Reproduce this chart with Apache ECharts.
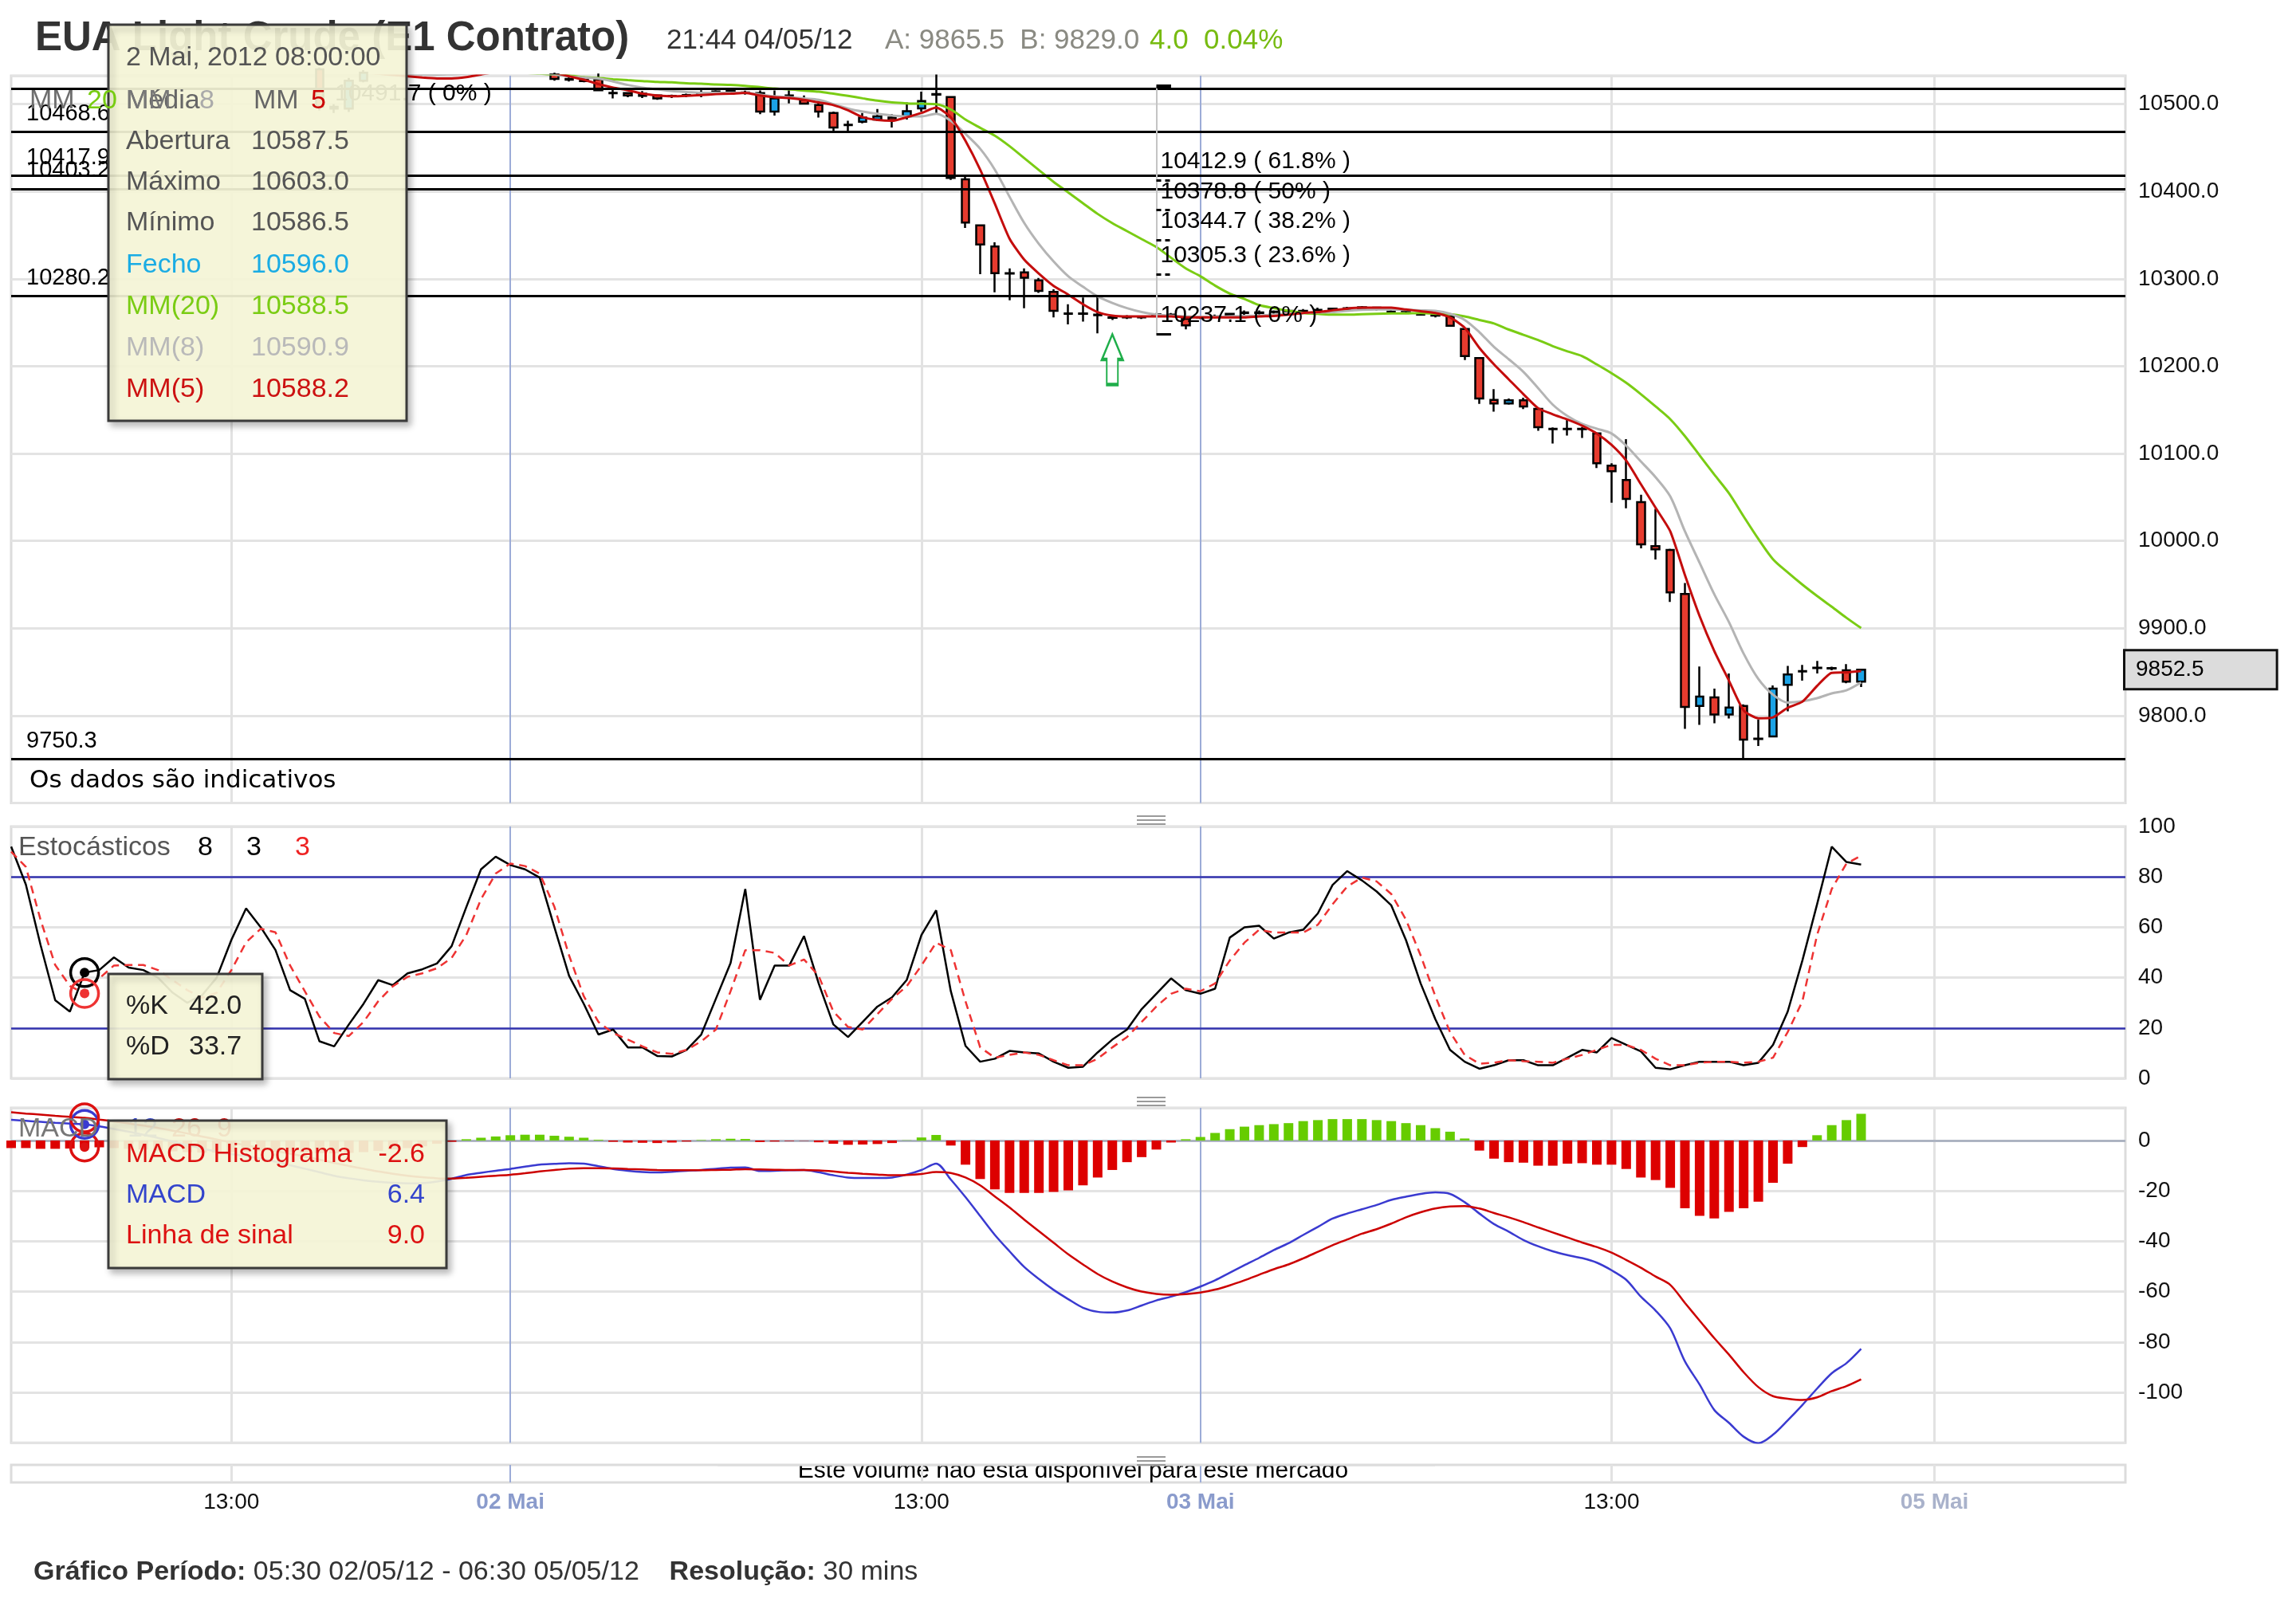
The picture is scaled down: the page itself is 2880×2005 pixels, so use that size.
<!DOCTYPE html>
<html><head><meta charset="utf-8">
<script src="https://cdn.jsdelivr.net/npm/echarts@6/dist/echarts.min.js"></script>
<style>html,body{margin:0;padding:0;background:#fff}#c{width:2880px;height:2005px}</style>
</head><body><div id="c"></div><script>
const FONT = '"Liberation Sans", Arial, Helvetica, sans-serif';

// ---- x axis slots (bar index) and tick labels ----
const slotCount = 145;
const slots = Array.from({length: slotCount}, (_, i) => i);
const xTickIndex = [15, 34, 62, 81, 109, 131];
const xTickText  = ['13:00', '02 Mai', '13:00', '03 Mai', '13:00', '05 Mai'];
const xTickKind  = ['t', 'd', 't', 'd', 't', 'w'];

// ---- price candles (30 min) ----
const candleOpen = [10616,10612,10604,10592,10584,10587.5,10596,10592,10598,10590,
 10588,10585,10580,10576,10572,10575,10580,10584,10572,10563,
 10552,10540,10497,10495,10527,10536,10537,10535,10536,10537,
 10538,10540,10544,10548,10550,10547,10544,10534,10529,10528.6,
 10528.6,10513,10512.8,10512,10510,10509.5,10510.5,10512,10514,10515,
 10513.5,10512.8,10491.5,10509,10505,10499,10490,10476.5,10480,10482.4,
 10484.8,10486,10495.2,10511,10508.2,10414,10361.4,10337,10306.6,10307.5,
 10298.4,10285,10260.4,10260.4,10259,10256,10256,10256.5,10259,10259,
 10254.3,10256,10257,10258,10261,10261,10262,10263,10263,10264,
 10266,10265.5,10266,10267,10262,10263,10259,10258.5,10257.3,10242.7,
 10209.3,10161.5,10157.4,10161,10151.3,10128.5,10128,10128,10123.1,10086.3,
 10069.7,10044.5,9994,9989.6,9939.2,9811.1,9820.8,9801.3,9811.1,9773.2,
 9776.1,9835.3,9850.5,9854.5,9854.4,9851.9,9838.9];
const candleClose = [10612,10604,10592,10584,10587.5,10596,10592,10598,10590,10588,
 10585,10580,10576,10572,10575,10580,10584,10572,10563,10552,
 10540,10497,10495,10527,10536,10537,10535,10536,10537,10538,
 10540,10544,10548,10550,10547,10544,10534,10529,10528,10526.5,
 10516,10512.5,10510,10509.5,10506.5,10509,10510,10512.5,10514.5,10515.5,
 10513,10491.5,10506.7,10510,10500.6,10491.5,10473.3,10476,10484.8,10486,
 10481.8,10492,10503.7,10511.5,10415.5,10364.4,10339.4,10306.6,10306,10301.4,
 10286.2,10263.4,10260,10260,10258.5,10255.5,10256.5,10256,10259.5,10258.5,
 10246.7,10256.5,10256.5,10260,10261.5,10261.5,10262.5,10263.5,10263.5,10264.5,
 10264,10266.5,10267.5,10265.5,10262.5,10263.5,10259.5,10258,10246.3,10211.7,
 10163,10157.4,10161,10154,10130.3,10128,10128.5,10128.5,10088.9,10079.8,
 10048.1,9996.2,9990.4,9941,9810,9821.9,9801.3,9809.3,9772.5,9773.7,
 9830.9,9847.1,9851,9855,9854,9838.9,9852.5];
const candleLow = [10605,10600,10590,10580,10582,10586.5,10589,10590,10588,10585,
 10582,10578,10572,10569,10570,10573,10578,10570,10560,10550,
 10538,10493,10490,10491,10525,10534,10534,10534,10535,10535,
 10536,10538,10542,10546,10545,10542,10533,10527,10526,10525,
 10515,10506.7,10508,10507,10505,10507,10508,10508,10512,10513,
 10511,10488.5,10487,10501,10500,10484.8,10467.8,10467.8,10478,10480.9,
 10473.3,10482.4,10491.5,10488.5,10413.3,10358.3,10305.4,10284.7,10275.6,10266.5,
 10284,10255.8,10248,10251,10237.6,10253,10254,10254,10257,10257,
 10242.2,10254,10255,10257,10257,10259,10260,10261,10261,10262,
 10263,10264,10265,10264,10260,10261,10258,10256,10245.5,10207.1,
 10157,10148,10156,10151,10126,10111.6,10120.6,10118,10083.5,10043.8,
 10037.3,9991.5,9978.8,9930.2,9784.8,9789.4,9791.2,9796.7,9751.6,9765.3,
 9775,9805,9840,9848.2,9852,9837,9832.7];
const candleHigh = [10620,10614,10606,10594,10590,10603,10598,10600,10599,10593,
 10590,10587,10582,10578,10578,10582,10586,10585,10574,10565,
 10555,10542,10500,10530,10539,10540,10538,10538,10539,10540,
 10542,10546,10550,10553,10552,10549,10545,10536,10531,10530,
 10535,10517.4,10514,10515,10511,10511,10512,10516,10516,10517,
 10515.5,10515.8,10515.8,10516,10510,10503.7,10491.5,10481,10490,10494.5,
 10488.5,10502,10514.3,10534,10509,10419,10362,10341.9,10312,10312,
 10301,10288,10271,10278.6,10281.7,10258,10258.5,10258,10261,10261,
 10256,10258,10259,10261,10264,10264,10264,10265,10265.5,10267,
 10267,10268,10269,10268,10265,10265,10261,10262,10258.4,10244,
 10210,10173.7,10163,10164,10152,10130,10139.4,10130.5,10124,10088.9,
 10116.6,10052.8,10036.6,9991,9951.8,9856.2,9830.9,9848.2,9813,9795.6,
 9834.5,9856.9,9858,9862.6,9856,9859,9853];

// ---- moving averages ----
const ma5 = [10598,10596,10593,10590,10589,10588.2,10589,10590,10591,10592,
 10590,10587,10583,10579,10576,10575,10576,10575,10572,10566,
 10560,10553,10546,10541,10537,10535,10533.5,10532,10530.5,10529.5,
 10529.5,10531,10534,10537,10539,10540,10539,10536,10532,10528,
 10523,10519,10516,10512,10510,10509,10509.5,10510.5,10511.5,10512,
 10513,10510,10508,10507,10505,10502,10499,10493,10485,10482,
 10481,10485,10490,10496,10485,10458,10425,10386,10346,10322,
 10306,10292,10282,10271,10262,10258,10257,10257,10257,10257,
 10256,10256,10256,10256,10256,10257,10257.5,10259,10261,10262,
 10264,10266,10267,10267,10267,10265,10263,10261,10256,10244,
 10221,10202,10185,10168,10152,10145,10139,10132,10123,10110,
 10092,10065,10038,10011,9961,9914,9874,9840,9806,9797,
 9798,9809,9816,9834,9849,9849.5,9851];
const ma8 = [10594,10593.5,10593,10592,10591.5,10590.9,10590,10589.5,10589,10588.5,
 10588,10586,10584,10582,10580,10578,10576,10574,10571,10567,
 10562,10557,10552,10547,10543,10540,10537,10535,10534,10534,
 10534.5,10535,10535.5,10536,10536.5,10537,10536,10534,10532,10530.5,
 10529.5,10526,10522,10519,10517,10515,10514,10513,10513,10513,
 10513,10511,10509,10508,10506.5,10505,10500,10495,10491.5,10489,
 10487,10486,10486,10489,10481,10466,10449,10425,10394,10364,
 10340,10320,10303,10291,10280,10272.5,10266.5,10262,10259,10258,
 10257,10256.5,10256.5,10257,10257.5,10258,10259,10260,10261,10261.5,
 10262,10263.5,10264.5,10265,10265,10264.5,10264,10263.4,10260,10253,
 10239,10222,10208,10193.5,10175,10156,10143,10134,10128.5,10123,
 10109,10091,10073,10051,10011,9975,9939,9907,9871,9842,
 9824,9815,9816.5,9820,9825.5,9829,9838];
const ma20 = [10590,10589.5,10589,10589,10588.7,10588.5,10588,10587.5,10587,10586.5,
 10586,10585,10584,10583,10582,10581,10580,10578.5,10577,10575,
 10573,10570.5,10568,10565,10562,10559,10556,10553,10550,10547,
 10545,10543,10541,10539,10537.5,10536,10535,10534,10533,10531,
 10530,10528.6,10527.5,10526.5,10525.5,10525,10524,10523.4,10522.5,10522,
 10521,10519.5,10518,10517,10515.5,10514.3,10512,10509.5,10506.7,10504,
 10502,10501,10500.6,10500,10494,10482.4,10473,10464,10452,10438.3,
 10424.6,10411,10399,10386.6,10374.4,10363.8,10354.7,10345.5,10336.4,10324.2,
 10312,10303,10292.3,10283.2,10277,10270,10266.5,10263.5,10261,10260,
 10259,10259,10259.5,10260,10260.4,10260.5,10261,10260,10259.5,10257,
 10253,10249,10242,10236,10230,10223,10217,10211.5,10202,10192,
 10181,10168,10154,10139.4,10120,10098,10076,10054.6,10028,10002.3,
 9979,9964,9950,9937,9924.7,9912,9900.2];

// ---- stochastics (8,3,3) ----
const stochK = [92,77,53,31,26.5,42,43,48,44,43,
 40,34,30,33,40,55,67.5,60,51,35,
 31.6,14.7,12.7,21.4,29.6,39,37,41.7,43.3,45.6,
 52.5,68,83,88,84.7,83,79.7,60,40.7,29.6,
 17.4,19.4,12.3,12.3,8.9,8.7,11.3,17.4,31.6,45.8,
 75.2,31.2,44.8,44.8,56.5,37.7,21.4,16.4,22.4,28.5,
 32.2,39.1,56.9,66.7,34.6,12.9,6.6,7.8,10.9,10.3,
 9.9,6.6,4.2,4.6,10.3,15.4,19.4,27.5,33.6,39.7,
 35,33.6,35.6,55.9,60,60.6,55.5,57.9,59,65.5,
 76.8,82.3,78.6,74.2,68.7,54.9,37.7,23.5,11.3,6.6,
 3.8,5.2,7.2,7.2,5.2,5.2,8.2,11.3,10.3,16,
 13.3,10.7,4.2,3.6,5.2,6.6,6.6,6.6,5.2,6.2,
 13.3,26.5,46.8,69.1,92,85.9,84.9];
const stochD = [90,84,63,45,36.7,33.7,39.7,44.8,45,45,
 43,39,35,32,34,43,54,59.4,58,44.8,
 34.6,24.5,18,16.8,22.4,30.6,36.6,40.3,41.7,43.7,
 47.8,56.9,71.1,81.3,85.3,84.3,81.3,68.1,48.8,32.6,
 22.4,18,15.4,12.7,10.3,9.7,11.3,14.7,19.4,34.6,
 50.9,50.9,49.8,44.8,47.2,40.7,26.5,20.4,19.4,25.5,
 31.6,36.6,44.8,53.9,50.9,30.6,12.3,8.2,9.3,10.3,
 9.3,7.2,5.2,5.2,7.8,12.3,16.4,22.4,28.5,33.6,
 35.6,34.6,37.7,46.8,53.9,59,57.9,57.9,57.9,61,
 69.1,76.2,79.7,78.2,73.2,63,48.8,32.6,18.4,9.3,
 5.8,6.2,7.2,6.8,6.6,6.2,7.8,9.3,11.3,13.3,
 13.3,11.3,7.8,5.2,5.2,6.2,6.6,6.6,6.2,6.6,
 8.2,18.4,30.6,56.9,75.2,85.3,88.4];

// ---- MACD (12,26,9) ----
const macdLine = [8.2,7.8,7.4,7.0,6.7,6.4,5.6,4.6,3.5,2.3,
 1.0,-0.4,-1.8,-3.2,-4.4,-5.4,-6.2,-7.2,-8.4,-9.8,
 -11.2,-12.6,-14.0,-15.0,-15.8,-16.4,-16.8,-17.0,-16.9,-16.3,
 -15.2,-13.7,-12.8,-12.0,-11.3,-10.4,-9.6,-9.3,-9.0,-9.2,
 -10.2,-11.3,-12.0,-12.5,-12.7,-12.4,-12.0,-11.7,-11.2,-10.8,
 -10.7,-12.1,-12.0,-11.8,-11.7,-12.6,-13.8,-14.7,-14.9,-14.9,
 -14.7,-13.5,-11.7,-9.2,-15.5,-22.5,-30,-37.5,-44,-50.2,
 -55.0,-59.3,-63.0,-66.4,-68.0,-68.3,-67.5,-65.5,-63.5,-62,
 -60.2,-58,-55.5,-52.5,-49.5,-46.6,-43.5,-40.8,-37.5,-34.3,
 -31.0,-29,-27.3,-25.6,-23.6,-22.3,-21.2,-20.6,-21.2,-24.5,
 -29.0,-33.2,-36.2,-39.5,-42.0,-44.0,-45.5,-46.7,-48.5,-51.5,
 -55.3,-62,-67.5,-74.6,-87.7,-96.9,-107,-112.1,-117.6,-120.2,
 -116.8,-111.1,-105,-98.5,-92.4,-88.4,-82.7];
const signalLine = [11.2,10.7,10.3,9.8,9.4,9.0,8.3,7.6,6.8,5.9,
 5.0,3.9,2.8,1.6,0.4,-0.8,-1.9,-3.0,-4.1,-5.2,
 -6.4,-7.6,-8.9,-10.1,-11.2,-12.3,-13.2,-14.0,-14.6,-15.0,
 -15.1,-14.8,-14.4,-14.0,-13.6,-13.0,-12.3,-11.7,-11.2,-11.0,
 -11.0,-11.1,-11.3,-11.5,-11.7,-11.8,-11.8,-11.8,-11.7,-11.6,
 -11.4,-11.5,-11.6,-11.7,-11.7,-11.9,-12.3,-12.8,-13.2,-13.5,
 -13.8,-13.7,-13.3,-12.5,-12.9,-14.7,-17.8,-22.2,-26.6,-31.4,
 -36.0,-40.6,-45.2,-49.2,-53.0,-56.0,-58.3,-60,-60.9,-61.2,
 -61.0,-60.4,-59.2,-57.5,-55.5,-53.3,-51.1,-49.2,-46.8,-44.2,
 -41.6,-39.3,-37.0,-35.2,-33.0,-30.5,-28.5,-27.0,-26.2,-26.0,
 -27.0,-28.8,-30.5,-32.4,-34.5,-36.5,-38.5,-40.5,-42.3,-44.5,
 -47.4,-50.5,-54,-57.3,-64.5,-71.5,-78.5,-85,-92,-97.9,
 -101.5,-102.5,-103,-102,-99.5,-97.5,-94.8];
const macdHist = [-3,-3,-3.3,-3.3,-3.2,-2.6,-2.7,-3.0,-3.3,-3.6,
 -4.0,-4.3,-4.6,-4.8,-4.8,-4.6,-4.3,-4.2,-4.3,-4.6,
 -4.8,-5.0,-5.1,-4.9,-4.6,-4.1,-3.6,-3.0,-2.3,-1.3,
 -0.5,0.5,1.1,1.6,2.1,2.3,2.3,1.9,1.5,1.1,
 0.3,-0.5,-0.8,-0.9,-1.0,-0.8,-0.4,0.2,0.5,0.7,
 0.6,-0.6,-0.4,-0.2,-0.1,-0.7,-1.3,-1.7,-1.6,-1.4,
 -1.0,0.1,1.2,2.2,-2.0,-9.6,-15.3,-19.4,-20.8,-20.8,
 -20.8,-20.4,-19.8,-17.8,-14.7,-11.7,-8.6,-6.6,-3.6,-0.8,
 0.5,1.4,3.0,4.5,5.5,6.1,6.5,6.9,7.7,8.1,
 8.5,8.5,8.5,8.1,7.7,6.9,6.1,4.9,3.5,0.8,
 -4.0,-7.2,-8.6,-8.8,-10.0,-10.0,-9.2,-9.0,-9.6,-9.6,
 -11.3,-14.7,-15.7,-18.8,-26.9,-29.9,-30.9,-28.3,-26.9,-24.3,
 -16.8,-9.2,-2.6,2.1,6.1,8.1,10.6];

// ---- drawn levels ----
const levelValues = [10518, 10468.6, 10417.9, 10403.2, 10280.2, 9750.3];
const levelLabels = ['', '10468.6', '10417.9', '10403.2', '10280.2', '9750.3'];
const fibValues = [10520.5, 10412.9, 10378.8, 10344.7, 10305.3, 10237.1];
const fibLabels = ['', '10412.9 ( 61.8% )', '10378.8 ( 50% )', '10344.7 ( 38.2% )', '10305.3 ( 23.6% )', '10237.1 ( 0% )'];
const fibStart = 78, fibEnd = 79;
const lastPrice = 9852.5;
const hoverIndex = 5;
const hover = {k: 42.0, d: 33.7, hist: -2.6, macd: 6.4, signal: 9.0};
const arrowAt = [75, 10207.8];

[candleOpen, candleClose, candleLow, candleHigh, ma5, ma8, ma20, stochK, stochD, macdLine, signalLine, macdHist]
  .forEach((a, k) => { if (a.length !== 127) console.error('array ' + k + ' length ' + a.length); });

const candleData = candleOpen.map((o, i) => [o, candleClose[i], candleLow[i], candleHigh[i]]);

function vLines() {
  return xTickIndex.map((ix, k) => ({
    xAxis: ix,
    lineStyle: {color: xTickKind[k] === 'd' ? '#9cacd7' : '#e2e2e2', width: xTickKind[k] === 'd' ? 2 : 3, type: 'solid'}
  }));
}
function gridMarkLine() {
  return {silent: true, z: 1, animation: false, symbol: ['none', 'none'], label: {show: false}, data: vLines()};
}
function ring(x, y, color, dot) {
  const d = [{coord: [x, y], symbol: 'circle', symbolSize: 35,
    itemStyle: {color: 'rgba(255,255,255,0)', borderColor: color, borderWidth: 3.5}}];
  if (dot) d.push({coord: [x, y], symbol: 'circle', symbolSize: 12, itemStyle: {color: dot}});
  return {silent: true, animation: false, label: {show: false}, data: d};
}
function makeX(gridIndex, showLabels) {
  const ax = {type: 'category', gridIndex, data: slots, boundaryGap: false,
    axisLine: {show: false}, axisTick: {show: false}, splitLine: {show: false}, axisLabel: {show: false}};
  if (showLabels) {
    ax.axisLabel = {
      show: true, margin: 11,
      interval: (idx) => xTickIndex.indexOf(idx) >= 0,
      formatter: (val, idx) => {
        const k = xTickIndex.indexOf(idx);
        if (k < 0) return '';
        return '{' + xTickKind[k] + '|' + xTickText[k] + '}';
      },
      rich: {
        t: {fontSize: 28, color: '#111', fontFamily: FONT},
        d: {fontSize: 28, color: '#8a9bcc', fontWeight: 'bold', fontFamily: FONT},
        w: {fontSize: 28, color: '#a9b2cb', fontWeight: 'bold', fontFamily: FONT}
      }
    };
  }
  return ax;
}
const yLabel = {fontSize: 28, color: '#111', fontFamily: FONT, margin: 16};
const gridBase = {left: 14, right: 214, show: true, borderColor: '#dcdcdc', borderWidth: 3, backgroundColor: 'rgba(0,0,0,0)'};

function txt(x, y, text, color, size, extra) {
  const el = {type: 'text', x, y, z: 101, silent: true,
    style: {text, fill: color, font: size + 'px ' + FONT, verticalAlign: 'middle', textVerticalAlign: 'middle', align: 'left', textAlign: 'left'}};
  if (extra) { Object.assign(el.style, extra.style || {}); if (extra.z != null) el.z = extra.z; }
  return el;
}
function rtxt(x, y, text, color, size, z) {
  return txt(x, y, text, color, size, {style: {align: 'right', textAlign: 'right'}, z: z});
}
function box(x, y, w, h) {
  return {type: 'rect', z: 100, silent: true, shape: {x, y, width: w, height: h},
    style: {fill: 'rgba(251,251,219,0.9)', stroke: '#3a3a3a', lineWidth: 3,
      shadowBlur: 8, shadowOffsetX: 4, shadowOffsetY: 5, shadowColor: 'rgba(0,0,0,0.28)'}};
}
function handle(cx, y0) {
  return [0, 5, 10].map(dy => ({type: 'line', z: 20, silent: true,
    shape: {x1: cx - 18, y1: y0 + dy, x2: cx + 18, y2: y0 + dy}, style: {stroke: '#9a9a9a', lineWidth: 2}}));
}

const graphics = [
  // header
  txt(44, 49, 'EUA Light Crude (E1 Contrato)', '#333', 51, {style: {font: 'bold 51px ' + FONT}, z: 10}),
  txt(836, 51, '21:44 04/05/12', '#333', 35, {z: 10}),
  txt(1110, 51, 'A: 9865.5  B: 9829.0', '#8a8a82', 35, {z: 10}),
  txt(1442, 51, '4.0  0.04%', '#77bb11', 35, {z: 10}),
  // faded fib label under tooltip
  txt(420, 118, '10491.7 ( 0% )', '#000', 30, {z: 3}),
  txt(37, 980, 'Os dados são indicativos', '#000', 31, {style: {font: '31px "DejaVu Sans", sans-serif'}, z: 10}),
  // main tooltip
  box(136, 31, 374, 497),
  txt(158, 73, '2 Mai, 2012 08:00:00', '#555', 34),
  txt(158, 178, 'Abertura', '#555', 34), txt(315, 178, '10587.5', '#555', 34),
  txt(158, 229, 'Máximo', '#555', 34), txt(315, 229, '10603.0', '#555', 34),
  txt(158, 280, 'Mínimo', '#555', 34), txt(315, 280, '10586.5', '#555', 34),
  txt(158, 333, 'Fecho', '#1aace4', 34), txt(315, 333, '10596.0', '#1aace4', 34),
  txt(158, 385, 'MM(20)', '#7acc14', 34), txt(315, 385, '10588.5', '#7acc14', 34),
  txt(158, 437, 'MM(8)', '#b9b9b9', 34), txt(315, 437, '10590.9', '#b9b9b9', 34),
  txt(158, 489, 'MM(5)', '#cc1111', 34), txt(315, 489, '10588.2', '#cc1111', 34),
  // main legend (drawn over tooltip)
  txt(37, 127, 'MM', '#6e6e6e', 34, {z: 120}), txt(109, 127, '20', '#77cc11', 34, {z: 120}),
  txt(158, 127, 'Média', '#666', 34, {z: 120}), txt(158, 127, 'MM', '#777', 34, {z: 121}),
  txt(250, 127, '8', '#aaaaaa', 34, {z: 120}),
  txt(318, 127, 'MM', '#666', 34, {z: 120}), txt(390, 127, '5', '#cc0000', 34, {z: 120}),
  // stochastic legend + tooltip
  txt(23, 1064, 'Estocásticos', '#555', 34, {z: 50}),
  txt(248, 1064, '8', '#000', 34, {z: 50}), txt(309, 1064, '3', '#000', 34, {z: 50}), txt(370, 1064, '3', '#ee2222', 34, {z: 50}),
  box(136, 1222, 193, 132),
  txt(158, 1263, '%K', '#222', 34), txt(237, 1263, '42.0', '#222', 34),
  txt(158, 1314, '%D', '#222', 34), txt(237, 1314, '33.7', '#222', 34),
  // MACD legend + tooltip
  txt(23, 1417, 'MACD', '#777', 34, {z: 50}),
  txt(160, 1417, '12', '#3344cc', 34, {z: 50}), txt(215, 1417, '26', '#cc0000', 34, {z: 50}), txt(272, 1417, '9', '#cc0000', 34, {z: 50}),
  box(136, 1406, 424, 185),
  txt(158, 1449, 'MACD Histograma', '#dd1111', 34), rtxt(533, 1449, '-2.6', '#dd1111', 34, 101),
  txt(158, 1500, 'MACD', '#3344cc', 34), rtxt(533, 1500, '6.4', '#3344cc', 34, 101),
  txt(158, 1551, 'Linha de sinal', '#dd1111', 34), rtxt(533, 1551, '9.0', '#dd1111', 34, 101),
  // volume panel note (top clipped by panel edge)
  txt(1346, 1846, 'Este volume não está disponível para este mercado', '#000', 30,
    {style: {align: 'center', textAlign: 'center'}, z: 1}),
  {type: 'rect', z: 2, silent: true, shape: {x: 900, y: 1814, width: 900, height: 23}, style: {fill: '#fff'}},
  {type: 'line', z: 3, silent: true, shape: {x1: 900, y1: 1838, x2: 1800, y2: 1838}, style: {stroke: '#dcdcdc', lineWidth: 3}},
  // footer
  {type: 'text', x: 42, y: 1973, z: 10, silent: true, style: {
    text: '{b|Gráfico Período:}{n| 05:30 02/05/12 - 06:30 05/05/12    }{b|Resolução:}{n| 30 mins}',
    verticalAlign: 'middle', textVerticalAlign: 'middle', fill: '#333', font: '34px ' + FONT,
    rich: {b: {fontSize: 34, fontWeight: 'bold', fontFamily: FONT, fill: '#333', color: '#333'},
           n: {fontSize: 34, fontFamily: FONT, fill: '#333', color: '#333'}}}}
].concat(handle(1444, 1024), handle(1444, 1377), handle(1444, 1828));

const option = {
  animation: false,
  backgroundColor: '#fff',
  textStyle: {fontFamily: FONT},
  grid: [
    Object.assign({top: 95, height: 912.5}, gridBase),
    Object.assign({top: 1037, height: 316}, gridBase),
    Object.assign({top: 1389.9, height: 420.3}, gridBase),
    Object.assign({top: 1838, height: 22}, gridBase)
  ],
  xAxis: [makeX(0, false), makeX(1, false), makeX(2, false), makeX(3, true)],
  yAxis: [
    {type: 'value', gridIndex: 0, position: 'right', min: 9700, max: 10532.6, interval: 100,
     axisLine: {show: false}, axisTick: {show: false},
     axisLabel: Object.assign({showMinLabel: false, showMaxLabel: false, formatter: v => v.toFixed(1)}, yLabel),
     splitLine: {lineStyle: {color: '#e3e3e3', width: 3}}},
    {type: 'value', gridIndex: 1, position: 'right', min: 0, max: 100, interval: 20,
     axisLine: {show: false}, axisTick: {show: false}, axisLabel: Object.assign({}, yLabel),
     splitLine: {lineStyle: {color: '#e3e3e3', width: 3}}},
    {type: 'value', gridIndex: 2, position: 'right', min: -120, max: 13, interval: 20,
     axisLine: {show: false}, axisTick: {show: false},
     axisLabel: Object.assign({showMinLabel: false, showMaxLabel: false}, yLabel),
     splitLine: {lineStyle: {color: '#e3e3e3', width: 3}}},
    {type: 'value', gridIndex: 3, position: 'right', min: 0, max: 1, interval: 1,
     axisLine: {show: false}, axisTick: {show: false},
     axisLabel: Object.assign({showMaxLabel: false}, yLabel), splitLine: {show: false}}
  ],
  series: [
    {type: 'candlestick', name: 'EUA Light Crude', xAxisIndex: 0, yAxisIndex: 0, data: candleData, barWidth: 10, z: 2,
     itemStyle: {color: '#1ba3e6', color0: '#e63b2e', borderColor: '#000', borderColor0: '#000', borderColorDoji: '#000', borderWidth: 2.5},
     markLine: {silent: true, animation: false, symbol: ['none', 'none'], z: 5,
       lineStyle: {color: '#000', width: 3, type: 'solid'}, label: {show: false},
       data: levelValues.map((v, k) => ({yAxis: v, label: {show: !!levelLabels[k], position: 'insideStartTop',
         formatter: levelLabels[k], color: '#000', fontSize: 29, fontFamily: FONT, distance: [19, 8]}}))},
     markPoint: {silent: true, animation: false, label: {show: false},
       data: [{coord: arrowAt, symbol: 'path://M13,0 L26,31 L20,31 L20,62 L6,62 L6,31 L0,31 Z', symbolSize: [26, 63],
         itemStyle: {color: 'rgba(0,0,0,0)', borderColor: '#1fae4a', borderWidth: 3}}]}},
    {type: 'line', name: 'MM(20)', xAxisIndex: 0, yAxisIndex: 0, data: ma20, symbol: 'none', smooth: 0.3, z: 3,
     lineStyle: {color: '#7acc14', width: 3}, markLine: gridMarkLine()},
    {type: 'line', name: 'MM(8)', xAxisIndex: 0, yAxisIndex: 0, data: ma8, symbol: 'none', smooth: 0.3, z: 3,
     lineStyle: {color: '#b4b4b4', width: 3},
     markLine: {silent: true, animation: false, symbol: ['none', 'none'], z: 5, label: {show: false},
       lineStyle: {color: '#000', width: 3, type: [6, 5]},
       data: [[{coord: [fibStart, fibValues[0]], lineStyle: {color: '#c4c4c4', width: 2, type: 'solid'}}, {coord: [fibStart, fibValues[5]]}]]
         .concat(fibValues.map((v, k) => [
           {coord: [fibStart, v],
            lineStyle: (k === 0 || k === 5) ? {color: '#000', width: k === 0 ? 5 : 3, type: 'solid'} : {color: '#000', width: 3, type: [6, 5]},
            label: {show: !!fibLabels[k], position: 'insideStartTop', formatter: fibLabels[k], color: '#000', fontSize: 30, fontFamily: FONT, distance: [5, 8]}},
           {coord: [fibEnd, v]}]))}},
    {type: 'line', name: 'MM(5)', xAxisIndex: 0, yAxisIndex: 0, data: ma5, symbol: 'none', smooth: 0.2, z: 3,
     lineStyle: {color: '#c40d0d', width: 3},
     markLine: {silent: true, animation: false, symbol: ['none', 'none'], z: 6,
       data: [{yAxis: lastPrice, lineStyle: {color: 'rgba(0,0,0,0)', width: 1},
         label: {show: true, position: 'end', formatter: String(lastPrice), distance: 0, color: '#000', fontSize: 28, fontFamily: FONT,
           backgroundColor: '#dcdcdc', borderColor: '#111', borderWidth: 3, padding: [9, 90, 9, 13]}}]}},
    // stochastics
    {type: 'line', name: '%K', xAxisIndex: 1, yAxisIndex: 1, data: stochK, symbol: 'none', z: 3,
     lineStyle: {color: '#000', width: 2.5}, markLine: gridMarkLine(), markPoint: ring(hoverIndex, hover.k, '#000', '#000')},
    {type: 'line', name: '%D', xAxisIndex: 1, yAxisIndex: 1, data: stochD, symbol: 'none', z: 3,
     lineStyle: {color: '#ee3333', width: 2.5, type: [10, 7]},
     markLine: {silent: true, animation: false, symbol: ['none', 'none'], z: 1, label: {show: false},
       lineStyle: {color: '#3434b0', width: 2.5, type: 'solid'}, data: [{yAxis: 80}, {yAxis: 20}]},
     markPoint: ring(hoverIndex, hover.d, '#ee3333', '#ee3333')},
    // MACD
    {type: 'bar', name: 'MACD Histograma', xAxisIndex: 2, yAxisIndex: 2, data: macdHist, barWidth: 12, z: 2,
     itemStyle: {color: p => (p.value >= 0 ? '#66cc00' : '#dd0000')},
     markLine: gridMarkLine(), markPoint: ring(hoverIndex, hover.hist, '#dd1111', '#dd1111')},
    {type: 'line', name: 'MACD', xAxisIndex: 2, yAxisIndex: 2, data: macdLine, symbol: 'none', smooth: 0.3, z: 3,
     lineStyle: {color: '#3a3ad0', width: 2.5},
     markLine: {silent: true, animation: false, symbol: ['none', 'none'], z: 1, label: {show: false},
       lineStyle: {color: '#a4acbc', width: 2.5, type: 'solid'}, data: [{yAxis: 0}]},
     markPoint: ring(hoverIndex, hover.macd, '#3a3ad0', '#3a3ad0')},
    {type: 'line', name: 'Linha de sinal', xAxisIndex: 2, yAxisIndex: 2, data: signalLine, symbol: 'none', smooth: 0.3, z: 3,
     lineStyle: {color: '#cc0000', width: 2.5}, markPoint: ring(hoverIndex, hover.signal, '#dd1111', null)},
    // volume (no data for this market)
    {type: 'line', name: 'Volume', xAxisIndex: 3, yAxisIndex: 3, data: [], symbol: 'none', markLine: gridMarkLine()}
  ],
  graphic: {elements: graphics}
};

const chart = echarts.init(document.getElementById('c'), null, {renderer: 'canvas'});
chart.setOption(option);
</script></body></html>
